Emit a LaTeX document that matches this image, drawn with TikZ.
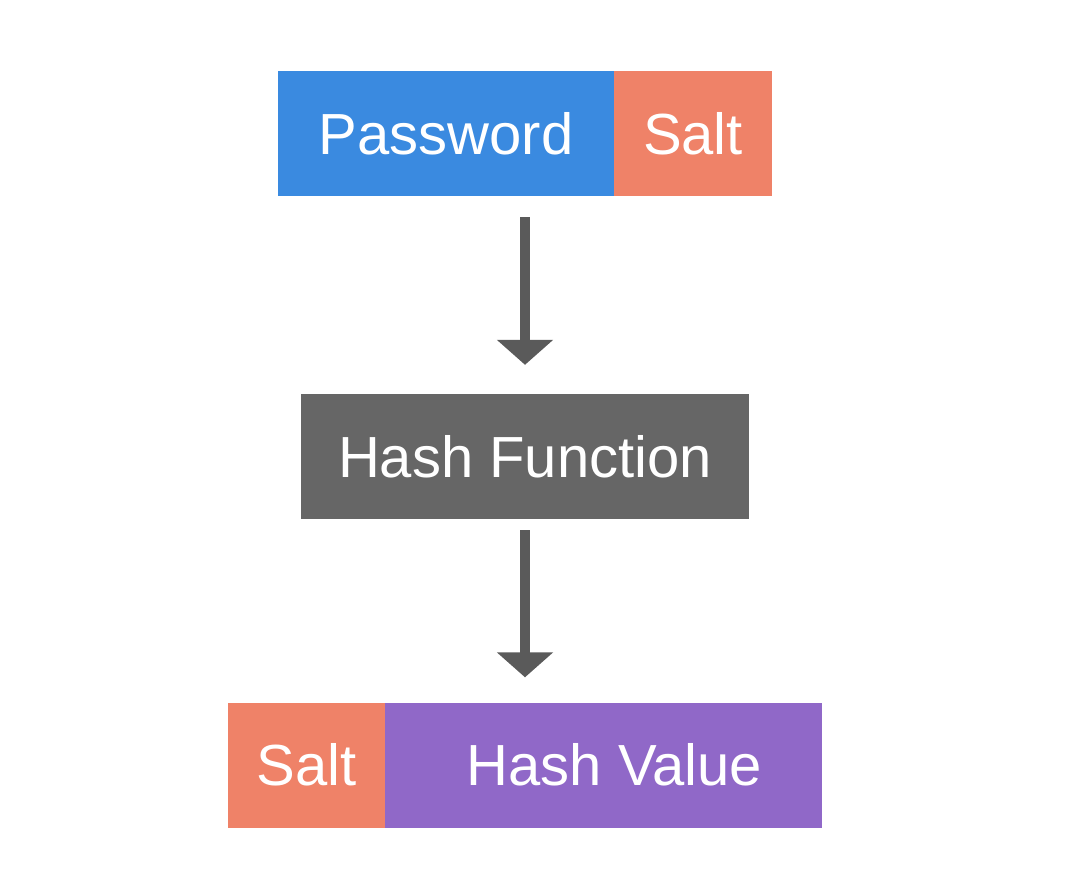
\documentclass[tikz,border=0pt]{standalone}
\usepackage{fontspec}
\setmainfont{Liberation Sans}
\usetikzlibrary{arrows.meta}
\definecolor{pwblue}{HTML}{3A8AE0}
\definecolor{saltred}{HTML}{EF8268}
\definecolor{hashgray}{HTML}{666666}
\definecolor{arrowgray}{HTML}{5A5A5A}
\definecolor{valpurple}{HTML}{9068C8}
\begin{document}
\begin{tikzpicture}[x=1pt,y=-1pt,
  box/.style={minimum height=125pt,inner sep=0pt,text=white,
    font=\fontsize{58}{64}\selectfont},
  flow/.style={draw=arrowgray,line width=10pt,
    -{Triangle[length=25pt,width=55pt]}}]
\useasboundingbox (0,0) rectangle (1065,886);
\fill[white] (0,0) rectangle (1065,886);
\node[box,fill=pwblue,minimum width=336pt] (pass) at (446,133.5) {Password};
\node[box,fill=saltred,minimum width=158pt] (salt) at (693,133.5) {Salt};
\node[box,fill=hashgray,minimum width=448pt] (hash) at (525,456.5) {Hash Function};
\node[box,fill=saltred,minimum width=157pt] (salt2) at (306.5,765) {Salt};
\node[box,fill=valpurple,minimum width=437pt] (value) at (603.5,765) {\hspace{22pt}Hash Value};
\draw[flow,shorten <=21pt,shorten >=29pt] (hash.north |- pass.south) -- (hash.north);
\draw[flow,shorten <=11pt,shorten >=25pt] (hash.south) -- (hash.south |- value.north);
\end{tikzpicture}
\end{document}
